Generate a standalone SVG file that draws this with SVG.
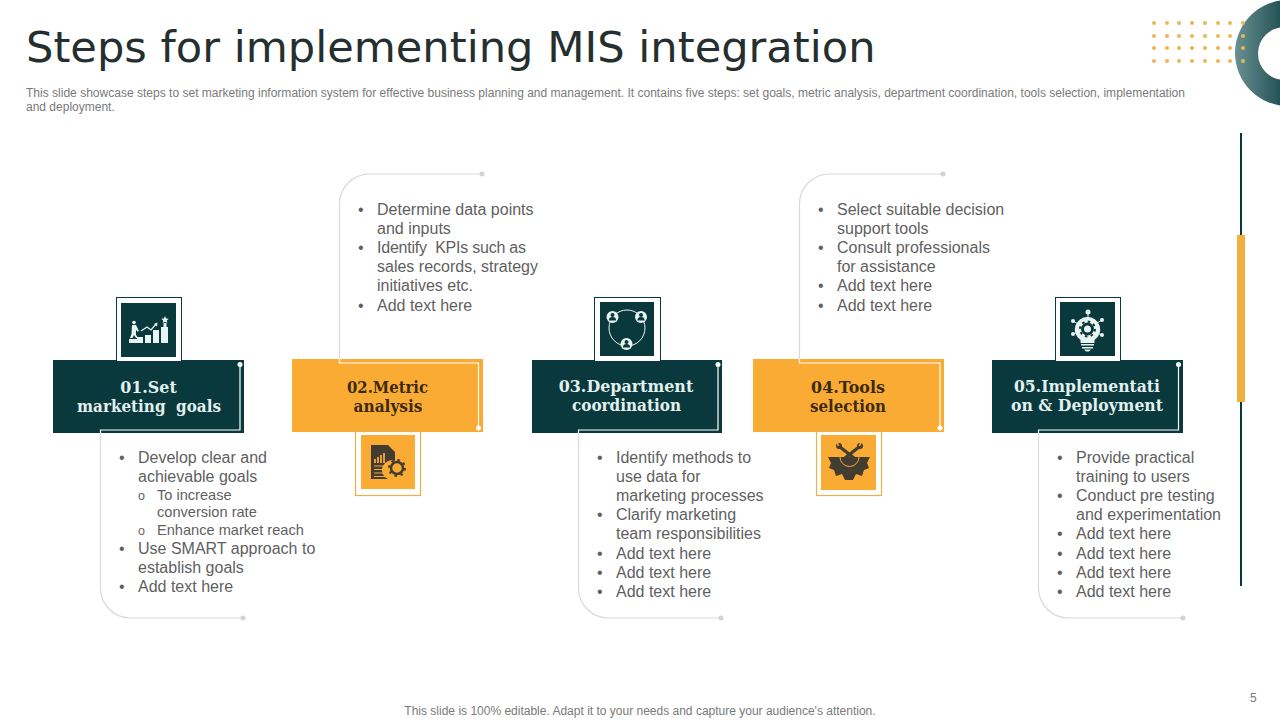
<svg xmlns="http://www.w3.org/2000/svg" width="1280" height="720" viewBox="0 0 1280 720">
<style>
text{font-family:"Liberation Sans",Arial,sans-serif}
.title{font-family:"DejaVu Sans",sans-serif;font-size:43.2px;fill:#262f2f}
.small{font-size:12px;fill:#7a7a7a}
.b{font-size:16px;fill:#5f5f5f}
.s{font-size:14.6px;fill:#5f5f5f}
.o{font-size:12.5px;fill:#5f5f5f}
.lab{font-family:"DejaVu Serif",serif;font-weight:700;font-size:15.9px;text-anchor:middle}
.dk{fill:#0a393d}.or{fill:#f9ab33}
.ld{fill:#e2f0ee}.lo{fill:#3c2a10}
.w{fill:none;stroke:#fff;stroke-width:1.2}
.g{fill:none;stroke:#d9d9d9;stroke-width:1.2}
.gd{fill:#d4d4d4}.wd{fill:#fff}
.ic{fill:#e8f4f2}.io{fill:#433c30}
.dot{fill:#e9b758}
</style>
<defs>
<linearGradient id="ring" x1="0" x2="1" y1="0" y2="0"><stop offset="0" stop-color="#6a9092"/><stop offset="0.55" stop-color="#0f4145"/><stop offset="1" stop-color="#0a393d"/></linearGradient>
<g id="p"><circle r="6" fill="#e8f4f2"/><circle cy="-2" r="2" fill="#0a393d"/><path d="M-3.600 3.400a3.600 3.400 0 0 1 7.200 0z" fill="#0a393d"/></g>
</defs>
<rect width="1280" height="720" fill="#fff"/>
<g id="decor">
<path fill="url(#ring)" fill-rule="evenodd" d="M1235 53a53 53 0 1 0 106 0a53 53 0 1 0-106 0zM1258 53.500a26.500 26.500 0 1 0 53 0a26.500 26.500 0 1 0-53 0z"/>
<g class="dot">
<circle cx="1154" cy="23" r="2"/><circle cx="1167" cy="23" r="2"/><circle cx="1179" cy="23" r="2"/><circle cx="1192" cy="23" r="2"/><circle cx="1205" cy="23" r="2"/><circle cx="1218" cy="23" r="2"/><circle cx="1230" cy="23" r="2"/><circle cx="1243" cy="23" r="2"/>
<circle cx="1154" cy="36" r="2"/><circle cx="1167" cy="36" r="2"/><circle cx="1179" cy="36" r="2"/><circle cx="1192" cy="36" r="2"/><circle cx="1205" cy="36" r="2"/><circle cx="1218" cy="36" r="2"/><circle cx="1230" cy="36" r="2"/><circle cx="1243" cy="36" r="2"/>
<circle cx="1154" cy="48" r="2"/><circle cx="1167" cy="48" r="2"/><circle cx="1179" cy="48" r="2"/><circle cx="1192" cy="48" r="2"/><circle cx="1205" cy="48" r="2"/><circle cx="1218" cy="48" r="2"/><circle cx="1230" cy="48" r="2"/><circle cx="1243" cy="48" r="2"/>
<circle cx="1154" cy="61" r="2"/><circle cx="1167" cy="61" r="2"/><circle cx="1179" cy="61" r="2"/><circle cx="1192" cy="61" r="2"/><circle cx="1205" cy="61" r="2"/><circle cx="1218" cy="61" r="2"/><circle cx="1230" cy="61" r="2"/><circle cx="1243" cy="61" r="2"/>
</g>
<rect x="1240" y="133" width="2" height="453" fill="#0a393d"/>
<rect x="1237" y="235" width="8" height="167" fill="#f0b040"/>
</g>
<text class="title" x="26" y="62">Steps for implementing MIS integration</text>
<text class="small" x="26" y="97" textLength="1159" lengthAdjust="spacingAndGlyphs">This slide showcase steps to set marketing information system for effective business planning and management. It contains five steps: set goals, metric analysis, department coordination, tools selection, implementation</text>
<text class="small" x="26" y="111">and deployment.</text>
<g id="connectors">
<path class="g" d="M100.500 433V588a30 30 0 0 0 30 30H243"/>
<path class="g" d="M339.500 359V204a30 30 0 0 1 30-30H482"/>
<path class="g" d="M578.500 433V588a30 30 0 0 0 30 30H721"/>
<path class="g" d="M799.500 359V204a30 30 0 0 1 30-30H943"/>
<path class="g" d="M1038.500 433V588a30 30 0 0 0 30 30H1183"/>
<circle class="gd" cx="243" cy="618" r="2.500"/><circle class="gd" cx="482" cy="174" r="2.500"/><circle class="gd" cx="721" cy="618" r="2.500"/><circle class="gd" cx="943" cy="174" r="2.500"/><circle class="gd" cx="1183" cy="618" r="2.500"/>
</g>
<g id="node1">
<rect class="dk" x="53" y="360" width="191" height="73"/>
<path class="w" d="M100.500 433V430H240V364"/><circle class="wd" cx="240" cy="364.500" r="2.500"/>
<text class="lab ld" x="148.500" y="393">01.Set</text><text class="lab ld" x="149" y="412" textLength="144" lengthAdjust="spacingAndGlyphs">marketing&#160; goals</text>
<rect x="116.500" y="297.500" width="65" height="64" fill="#fff" stroke="#0a393d"/>
<rect class="dk" x="121" y="303" width="55" height="54"/>
<g class="ic"><rect x="129" y="339" width="8" height="4"/><rect x="137" y="337" width="6" height="6"/><rect x="145" y="335" width="6" height="8"/><rect x="153" y="330" width="6" height="13"/><rect x="161" y="327" width="7" height="16"/>
<circle cx="134" cy="322.500" r="1.800"/><path d="M132 325h4l3 6-1.500.8-1.500-2v5l2 3.200h-2l-2-3-1.500 3H130l1.500-4z"/>
<path d="M165 316l1.100 2.400 2.600.3-1.900 1.800.5 2.600-2.300-1.300-2.300 1.300.5-2.600-1.900-1.800 2.600-.3z"/><rect x="163.500" y="323" width="3" height="4"/>
<path d="M141 331l6-4 4 3 5-6" fill="none" stroke="#e8f4f2" stroke-width="1.200"/><path d="M157.500 322.500l-.5 4-3-2.500z"/></g>
</g>
<g id="node2">
<rect class="or" x="292" y="359" width="191" height="73"/>
<path class="w" d="M339.500 359V363H478.500V428"/><circle class="wd" cx="478.500" cy="428" r="2.500"/>
<text class="lab lo" x="387.500" y="393" textLength="81" lengthAdjust="spacingAndGlyphs">02.Metric</text><text class="lab lo" x="388" y="412" textLength="69" lengthAdjust="spacingAndGlyphs">analysis</text>
<rect x="355.500" y="431.500" width="65" height="64" fill="#fff" stroke="#eeb04a" stroke-width="1.200"/>
<rect class="or" x="361" y="435" width="54" height="54"/>
<g class="io"><path d="M371 445H388L395 452V461A9 9 0 0 0 388 479H371z"/></g>
<g fill="none" stroke="#f9ab33" stroke-width="1"><path d="M374 466h16M374 469.500h14M374 473h14M374 476.500h14"/></g>
<path d="M375 463v-4M378 463v-6M381 463v-8M384 463v-10" stroke="#f9ab33" stroke-width="1.800" fill="none"/>
<circle cx="397" cy="468" r="6" fill="none" stroke="#433c30" stroke-width="2.500"/><circle cx="397" cy="468" r="8" fill="none" stroke="#433c30" stroke-width="2" stroke-dasharray="2.500 3.800"/>
</g>
<g id="node3">
<rect class="dk" x="532" y="360" width="190" height="73"/>
<path class="w" d="M578.500 433V430H718V364"/><circle class="wd" cx="718" cy="364.500" r="2.500"/>
<text class="lab ld" x="626" y="392">03.Department</text><text class="lab ld" x="626.500" y="411" textLength="109" lengthAdjust="spacingAndGlyphs">coordination</text>
<rect x="594.500" y="297.500" width="66" height="64" fill="#fff" stroke="#0a393d"/>
<rect class="dk" x="600" y="302" width="54" height="54"/>
<circle cx="627" cy="328" r="18" fill="none" stroke="#e8f4f2" stroke-width="1"/>
<use href="#p" x="612.500" y="317"/><use href="#p" x="641" y="317"/><use href="#p" x="626.500" y="344"/>
</g>
<g id="node4">
<rect class="or" x="753" y="359" width="191" height="73"/>
<path class="w" d="M799.500 359V363H940V428"/><circle class="wd" cx="940" cy="428" r="2.500"/>
<text class="lab lo" x="848" y="393">04.Tools</text><text class="lab lo" x="848" y="412" textLength="76" lengthAdjust="spacingAndGlyphs">selection</text>
<rect x="816.500" y="431.500" width="65" height="64" fill="#fff" stroke="#eeb04a" stroke-width="1.200"/>
<rect class="or" x="821" y="435" width="55" height="55"/>
<path class="io" d="M828 457H870L867 463 869 468 864 470 862 476 856 474 853 480H845L842 474 836 476 834 470 829 468 831 463z"/>
<path d="M840 457a9.500 9.500 0 0 0 19 0" fill="none" stroke="#f9ab33" stroke-width="1"/>
<path d="M840 447l14 11M859 447l-14 11" stroke="#433c30" stroke-width="3.200" fill="none"/>
<circle class="io" cx="839" cy="446" r="3"/><circle class="io" cx="860" cy="446" r="3"/>
<path d="M861 442l-1.500 4M837 442l1.500 4" stroke="#f9ab33" stroke-width="1.500" fill="none"/>
</g>
<g id="node5">
<rect class="dk" x="992" y="360" width="191" height="73"/>
<path class="w" d="M1038.500 433V430H1178.500V364"/><circle class="wd" cx="1178.500" cy="364.500" r="2.500"/>
<text class="lab ld" x="1087" y="392" textLength="146" lengthAdjust="spacingAndGlyphs">05.Implementati</text><text class="lab ld" x="1087" y="411" textLength="152" lengthAdjust="spacingAndGlyphs">on &amp; Deployment</text>
<rect x="1055.500" y="297.500" width="65" height="64" fill="#fff" stroke="#0a393d"/>
<rect class="dk" x="1060" y="302" width="55" height="54"/>
<g class="ic"><path d="M1087.500 317a12.500 12.500 0 0 1 7 23v3h-14v-3a12.500 12.500 0 0 1 7-23z"/><rect x="1081" y="344" width="13" height="1.500"/><rect x="1082" y="347" width="11" height="1.500"/><path d="M1084 349.500h7l-2 2h-3z"/>
<circle cx="1088" cy="312" r="2.500"/><circle cx="1073" cy="321" r="2"/><circle cx="1102" cy="320" r="2"/><circle cx="1073" cy="334" r="2"/><circle cx="1102" cy="335" r="2"/></g>
<path d="M1088 312v6M1073 321l5 3M1102 320l-5 3M1073 334l5-2M1102 335l-5-2" stroke="#e8f4f2" fill="none"/>
<circle cx="1087.500" cy="329" r="5" fill="none" stroke="#0a393d" stroke-width="3"/><circle cx="1087.500" cy="329" r="7.500" fill="none" stroke="#0a393d" stroke-width="2" stroke-dasharray="2.500 3.400"/>
</g>
<g id="list1">
<text class="b" x="119" y="463">•</text><text class="b" x="138" y="463">Develop clear and</text><text class="b" x="138" y="482">achievable goals</text>
<text class="o" x="138" y="500">o</text><text class="s" x="157" y="500">To increase</text><text class="s" x="157" y="517">conversion rate</text>
<text class="o" x="138" y="535">o</text><text class="s" x="157" y="535">Enhance market reach</text>
<text class="b" x="119" y="554">•</text><text class="b" x="138" y="554">Use SMART approach to</text><text class="b" x="138" y="573">establish goals</text>
<text class="b" x="119" y="592">•</text><text class="b" x="138" y="592">Add text here</text>
</g>
<g id="list2">
<text class="b" x="358" y="215">•</text><text class="b" x="377" y="215">Determine data points</text><text class="b" x="377" y="234">and inputs</text>
<text class="b" x="358" y="253">•</text><text class="b" x="377" y="253" textLength="149" lengthAdjust="spacing">Identify&#160; KPIs such as</text><text class="b" x="377" y="272">sales records, strategy</text><text class="b" x="377" y="291">initiatives etc.</text>
<text class="b" x="358" y="311">•</text><text class="b" x="377" y="311">Add text here</text>
</g>
<g id="list3">
<text class="b" x="597" y="463">•</text><text class="b" x="616" y="463">Identify methods to</text><text class="b" x="616" y="482">use data for</text><text class="b" x="616" y="501">marketing processes</text>
<text class="b" x="597" y="520">•</text><text class="b" x="616" y="520">Clarify marketing</text><text class="b" x="616" y="539">team responsibilities</text>
<text class="b" x="597" y="559">•</text><text class="b" x="616" y="559">Add text here</text>
<text class="b" x="597" y="578">•</text><text class="b" x="616" y="578">Add text here</text>
<text class="b" x="597" y="597">•</text><text class="b" x="616" y="597">Add text here</text>
</g>
<g id="list4">
<text class="b" x="818" y="215">•</text><text class="b" x="837" y="215">Select suitable decision</text><text class="b" x="837" y="234">support tools</text>
<text class="b" x="818" y="253">•</text><text class="b" x="837" y="253">Consult professionals</text><text class="b" x="837" y="272">for assistance</text>
<text class="b" x="818" y="291">•</text><text class="b" x="837" y="291">Add text here</text>
<text class="b" x="818" y="311">•</text><text class="b" x="837" y="311">Add text here</text>
</g>
<g id="list5">
<text class="b" x="1057" y="463">•</text><text class="b" x="1076" y="463">Provide practical</text><text class="b" x="1076" y="482">training to users</text>
<text class="b" x="1057" y="501">•</text><text class="b" x="1076" y="501">Conduct pre testing</text><text class="b" x="1076" y="520">and experimentation</text>
<text class="b" x="1057" y="539">•</text><text class="b" x="1076" y="539">Add text here</text>
<text class="b" x="1057" y="559">•</text><text class="b" x="1076" y="559">Add text here</text>
<text class="b" x="1057" y="578">•</text><text class="b" x="1076" y="578">Add text here</text>
<text class="b" x="1057" y="597">•</text><text class="b" x="1076" y="597">Add text here</text>
</g>
<text class="small" x="640" y="715" text-anchor="middle">This slide is 100% editable. Adapt it to your needs and capture your audience's attention.</text>
<text class="small" x="1250" y="702">5</text>
</svg>
